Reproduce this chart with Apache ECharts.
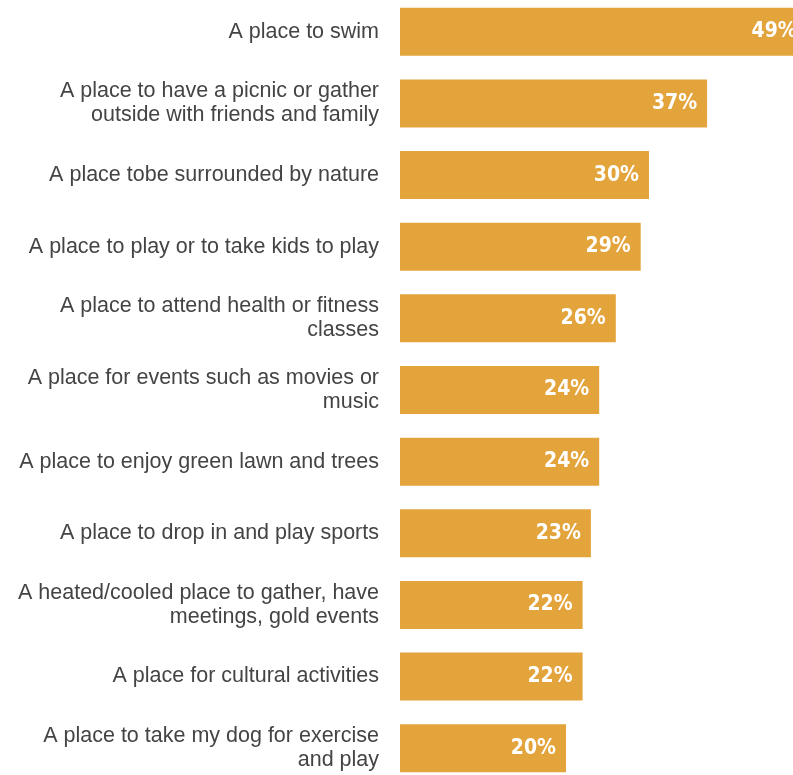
<!DOCTYPE html>
<html>
<head>
<meta charset="utf-8">
<script src="https://cdn.jsdelivr.net/npm/echarts@6/dist/echarts.min.js"></script>
<style>
  html, body { margin: 0; padding: 0; background: #fff; }
  #chart { width: 793px; height: 775px; }
</style>
</head>
<body>
<div id="chart"></div>
<script>
const categories = [
  "A place to swim",
  "A place to have a picnic or gather\noutside with friends and family",
  "A place tobe surrounded by nature",
  "A place to play or to take kids to play",
  "A place to attend health or fitness\nclasses",
  "A place for events such as movies or\nmusic",
  "A place to enjoy green lawn and trees",
  "A place to drop in and play sports",
  "A heated/cooled place to gather, have\nmeetings, gold events",
  "A place for cultural activities",
  "A place to take my dog for exercise\nand play"
];
const values = [49, 37, 30, 29, 26, 24, 24, 23, 22, 22, 20];

const myChart = echarts.init(document.getElementById("chart"));

const option = {
  animation: false,
  grid: {
    left: 400,
    top: -4,
    width: 415,
    height: 788,
    outerBoundsMode: "none"
  },
  xAxis: {
    type: "value",
    min: 0,
    max: 50,
    show: false
  },
  yAxis: {
    type: "category",
    data: categories,
    inverse: true,
    axisLine: { show: false },
    axisTick: { show: false },
    axisLabel: {
      margin: 21,
      color: "#444444",
      fontSize: 21.5,
      lineHeight: 24,
      padding: [6, 0, 0, 0],
      fontFamily: "Liberation Sans, Arial, sans-serif",
      align: "right"
    }
  },
  series: [
    {
      type: "bar",
      data: values,
      barWidth: 48,
      itemStyle: { color: "#E4A43C" },
      label: {
        show: true,
        position: "insideRight",
        distance: 10,
        formatter: "{c}%",
        color: "#ffffff",
        fontWeight: "bold",
        fontSize: 21,
        fontFamily: "DejaVu Sans Condensed, Liberation Sans Narrow, Arial, sans-serif"
      }
    }
  ]
};

myChart.setOption(option);
</script>
</body>
</html>
